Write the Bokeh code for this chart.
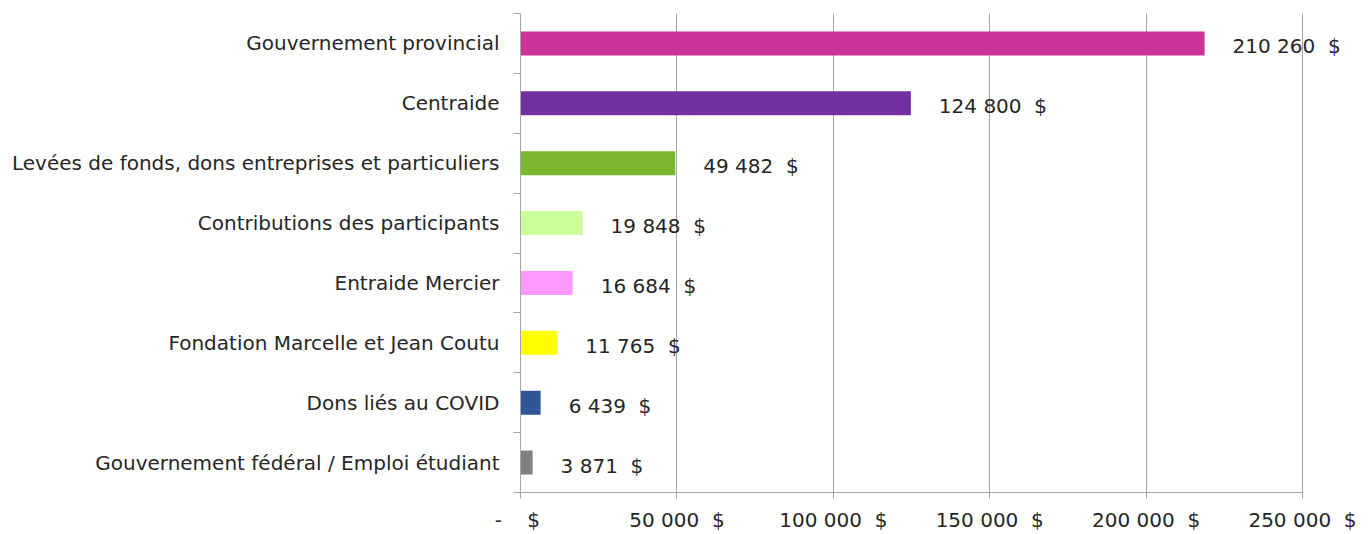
from bokeh.plotting import figure
from bokeh.models import ColumnDataSource, FixedTicker, Range1d, LabelSet
from bokeh.core.properties import value
from bokeh.embed import file_html
from bokeh.resources import INLINE

categories = [
    "Gouvernement provincial",
    "Centraide",
    "Levées de fonds, dons entreprises et particuliers",
    "Contributions des participants",
    "Entraide Mercier",
    "Fondation Marcelle et Jean Coutu",
    "Dons liés au COVID",
    "Gouvernement fédéral / Emploi étudiant",
]
bar_values = [218700, 124800, 49482, 19848, 16684, 11765, 6439, 3871]
value_labels = ["210 260 \u00a0$", "124 800 \u00a0$", "49 482 \u00a0$", "19 848 \u00a0$",
                "16 684 \u00a0$", "11 765 \u00a0$", "6 439 \u00a0$", "3 871 \u00a0$"]
colors = ["#CC3399", "#7030A0", "#7CB82F", "#CCFF99", "#FF99FF", "#FFFF00", "#2F5597", "#808080"]
x_ticks = [0, 50000, 100000, 150000, 200000, 250000]
x_tick_labels = ["-  \u00a0 \u00a0$", "50 000 \u00a0$", "100 000 \u00a0$", "150 000 \u00a0$",
                 "200 000 \u00a0$", "250 000 \u00a0$"]

n = len(categories)
ypos = [n - 0.5 - i for i in range(n)]

FONT = "DejaVu Sans"
FS = "20px"
TXT = "#262626"

# frame spans 520..1362 px; the visible axis covers 0..250000 over 782 px
x_max = x_ticks[-1]
x_end = x_max * 842 / 782

src = ColumnDataSource(dict(y=ypos, v=bar_values, c=colors, lab=value_labels))

p = figure(width=1368, height=534, output_backend="svg", toolbar_location=None,
           x_range=Range1d(0, x_end), y_range=Range1d(0, n),
           min_border_left=520, min_border_right=6, min_border_top=13, min_border_bottom=41)
p.outline_line_color = None
p.background_fill_color = "white"
p.border_fill_color = "white"

p.hbar(y="y", right="v", left=0, height=0.4, color="c", source=src, line_color=None)
labels = LabelSet(x="v", y="y", text="lab", source=src, x_offset=28, y_offset=-3,
                  text_font=value(FONT), text_font_size=value(FS), text_color=TXT,
                  text_baseline="middle", text_align="left")
p.add_layout(labels)

# x axis
p.xaxis.ticker = FixedTicker(ticks=x_ticks)
p.xaxis.bounds = (0, x_max)
p.xaxis.major_label_overrides = {t: l for t, l in zip(x_ticks, x_tick_labels)}
p.xaxis.axis_line_color = "#A6A6A6"
p.xaxis.major_tick_line_color = "#A6A6A6"
p.xaxis.major_tick_in = 0
p.xaxis.major_tick_out = 6
p.xaxis.minor_tick_line_color = None
p.xaxis.major_label_text_font = FONT
p.xaxis.major_label_text_font_size = FS
p.xaxis.major_label_text_color = TXT
p.xaxis.major_label_standoff = 9

# y axis
p.yaxis.ticker = FixedTicker(ticks=ypos, minor_ticks=list(range(n + 1)))
p.yaxis.major_label_overrides = {y: c for y, c in zip(ypos, categories)}
p.yaxis.axis_line_color = "#A6A6A6"
p.yaxis.major_tick_line_color = None
p.yaxis.minor_tick_line_color = "#A6A6A6"
p.yaxis.minor_tick_in = 0
p.yaxis.minor_tick_out = 7
p.yaxis.major_tick_in = 0
p.yaxis.major_tick_out = 0
p.yaxis.major_label_text_font = FONT
p.yaxis.major_label_text_font_size = FS
p.yaxis.major_label_text_color = TXT
p.yaxis.major_label_standoff = 14

p.xgrid.ticker = FixedTicker(ticks=x_ticks)
p.xgrid.grid_line_color = "#A6A6A6"
p.ygrid.grid_line_color = None

open("out.html", "w").write(file_html(p, INLINE))
